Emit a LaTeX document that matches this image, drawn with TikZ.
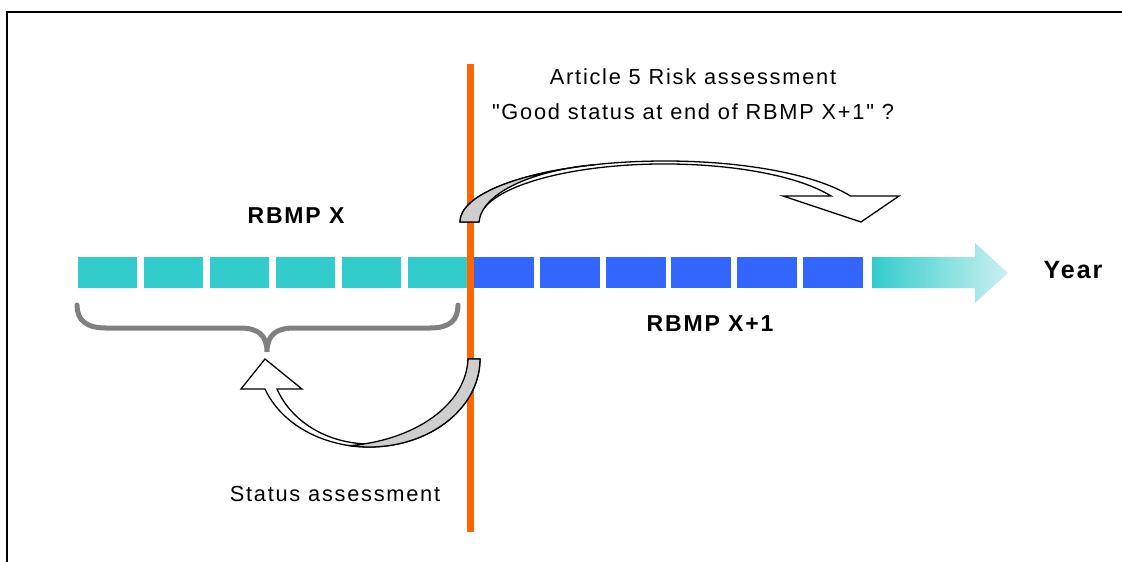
\documentclass[tikz,border=0pt]{standalone}
\usepackage{fontspec}
\setmainfont{Liberation Sans}
\newfontfamily\labfont[LetterSpace=8]{Liberation Sans}
\newfontfamily\boldlab[LetterSpace=8]{Liberation Sans Bold}
\definecolor{segcyan}{RGB}{51,204,204}
\definecolor{segblue}{RGB}{51,102,255}
\definecolor{divorange}{RGB}{255,102,0}
\definecolor{bracegray}{RGB}{128,128,128}
\definecolor{ribbongray}{RGB}{206,206,206}
\definecolor{fadecyan}{RGB}{204,240,240}
\begin{document}
\begin{tikzpicture}[x=1pt,y=-1pt,
  seg/.style={minimum width=59pt, minimum height=31pt, inner sep=0pt, outer sep=0pt, anchor=north west, draw=none},
  plainlab/.style={inner sep=0pt, font=\labfont\fontsize{21.8}{26}\selectfont},
  boldtext/.style={inner sep=0pt, font=\boldlab\fontsize{23}{27}\selectfont},
  ribbon/.style={draw=black, line width=1.3pt, line join=miter, fill=white},
  ribbonback/.style={draw=black, line width=1.3pt, fill=ribbongray}]
\useasboundingbox (0,0) rectangle (1122,562);
% frame
\draw[line width=2pt] (7,562) -- (7,12) -- (1122,12);
% timeline segments
\foreach \i in {0,...,5} \node[seg, fill=segcyan] (c\i) at ({78+66*\i},257) {};
\foreach \i in {0,...,5} \node[seg, fill=segblue, minimum width=60pt] (b\i) at ({474+65.8*\i},257) {};
% fading arrow
\path[left color=segcyan, right color=fadecyan, draw=none]
  (872,257) -- (975,257) -- (975,243) -- (1008,273) -- (975,303) -- (975,288) -- (872,288) -- cycle;
\node[boldtext, font=\boldlab\fontsize{25}{30}\selectfont] (year) at (1073,270) {Year};
% divider
\coordinate (dtop) at (470,64);
\coordinate (dbot) at (470,532);
\draw[divorange, line width=7pt] (dtop) -- (dbot);
% brace
\draw[bracegray, line width=5pt, line cap=round]
  (77,305) .. controls (77,320) and (86,328) .. (106,328) -- (240,328)
  .. controls (258,328) and (267,335) .. (267,352)
  .. controls (267,335) and (276,328) .. (294,328) -- (430,328)
  .. controls (450,328) and (458,320) .. (458,305);
% upper curved arrow (risk assessment)
\draw[ribbon] (460,222) arc[start angle=180, end angle=334.8, x radius=205, y radius=61]
  -- (899,196) -- (861,222) -- (783,196) -- (831,196)
  arc[start angle=333.4, end angle=180, x radius=186, y radius=58] -- cycle;
\draw[ribbonback] (460,222) arc[start angle=180, end angle=250, x radius=205, y radius=61]
  .. controls (535,170) and (482,192) .. (479,222) -- cycle;
% lower curved arrow (status assessment)
\draw[ribbon] (480,359) arc[start angle=0, end angle=160.1, x radius=110.8, y radius=88]
  -- (241,389) -- (265,359) -- (302,389) -- (277,389)
  arc[start angle=159.3, end angle=0, x radius=98.8, y radius=85] -- cycle;
\draw[ribbonback] (480,359) arc[start angle=0, end angle=100, x radius=110.8, y radius=88]
  .. controls (415,440) and (466,405) .. (468,359) -- cycle;
% labels
\node[plainlab] (art) at (693,77) {Article 5 Risk assessment};
\node[plainlab] (good) at (693,112) {"Good status at end of RBMP X+1" ?};
\node[boldtext] (rx) at (296,216) {RBMP X};
\node[boldtext] (rx1) at (710,324) {RBMP X+1};
\node[plainlab] (stat) at (335,494) {Status assessment};
\end{tikzpicture}
\end{document}
